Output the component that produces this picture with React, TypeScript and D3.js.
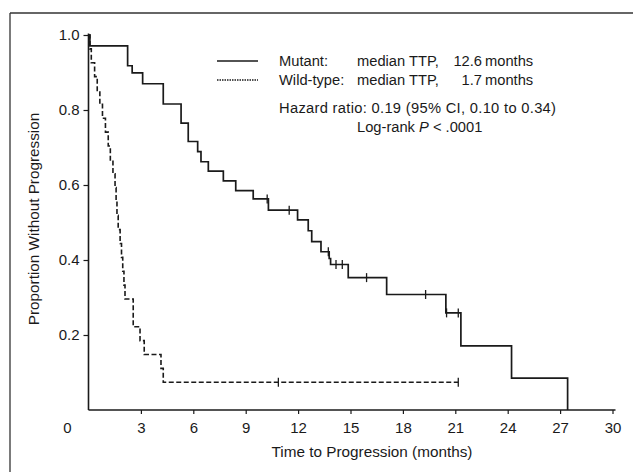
import { useEffect, useRef } from 'react';
import * as d3 from 'd3';

// Kaplan-Meier estimates (months, proportion)
const mutantTimes = [0, 0.08, 2.24, 2.5, 3.1, 4.28, 5.3, 5.71, 6.25, 6.44, 6.86, 7.72, 8.43, 9.43, 10.3, 11.97, 12.58, 12.78, 13.31, 13.78, 13.86, 14.87, 17.07, 20.46, 21.32, 24.22, 27.43];
const mutantSurv = [1.0, 0.971, 0.918, 0.899, 0.87, 0.816, 0.765, 0.716, 0.689, 0.662, 0.637, 0.611, 0.585, 0.563, 0.533, 0.507, 0.478, 0.449, 0.422, 0.404, 0.388, 0.353, 0.308, 0.259, 0.171, 0.085, 0];
const mutantCensored = [10.23, 11.49, 13.73, 14.17, 14.53, 15.92, 19.3, 20.5, 21.17];

const wildTimes = [0, 0.08, 0.16, 0.35, 0.5, 0.65, 0.8, 0.97, 1.13, 1.25, 1.4, 1.52, 1.58, 1.63, 1.7, 1.81, 1.89, 1.96, 2.03, 2.09, 2.56, 2.95, 3.19, 4.15, 4.28];
const wildSurv = [1.0, 0.963, 0.926, 0.889, 0.852, 0.815, 0.778, 0.741, 0.704, 0.667, 0.63, 0.593, 0.556, 0.519, 0.481, 0.444, 0.407, 0.37, 0.333, 0.296, 0.222, 0.185, 0.148, 0.111, 0.074];
const wildCensored = [10.87, 21.17];
const wildEnd = 21.17;

const xTicks = [3, 6, 9, 12, 15, 18, 21, 24, 27, 30];
const yTicks = [0.2, 0.4, 0.6, 0.8, 1.0];

const FONT = '"Liberation Sans", Arial, sans-serif';
const FS = 15;
const INK = '#1a1a1a';

export default function App() {
  const svgRef = useRef(null);

  useEffect(() => {
    const svg = d3.select(svgRef.current);
    svg.selectAll('*').remove();

    const x = d3.scaleLinear().domain([0, 30]).range([88.5, 612.5]);
    const y = d3.scaleLinear().domain([0, 1]).range([410, 35]);

    // figure frame (top + left, as cropped in the source)
    svg.append('line').attr('x1', 10).attr('x2', 633).attr('y1', 13).attr('y2', 13)
      .attr('stroke', '#333').attr('stroke-width', 1.3);
    svg.append('line').attr('x1', 10).attr('x2', 10).attr('y1', 13).attr('y2', 472)
      .attr('stroke', '#333').attr('stroke-width', 1.3);

    // axes
    const xAxis = svg.append('g').attr('transform', `translate(0,${y(0)})`)
      .call(d3.axisBottom(x).tickValues(xTicks).tickSize(4).tickSizeOuter(0).tickPadding(8).tickFormat(d3.format('d')));
    xAxis.select('.domain').attr('d', `M${x(0)},0H${x(30) + 3}`);
    const yAxis = svg.append('g').attr('transform', `translate(${x(0)},0)`)
      .call(d3.axisLeft(y).tickValues(yTicks).tickSize(5).tickSizeOuter(0).tickPadding(4).tickFormat(d3.format('.1f')));
    yAxis.select('.domain').attr('d', `M0,${y(0)}V${y(1) - 1.5}`);
    [xAxis, yAxis].forEach(g => {
      g.select('.domain').attr('stroke', INK).attr('stroke-width', 1.6);
      g.selectAll('.tick line').attr('stroke', INK).attr('stroke-width', 1.2);
      g.selectAll('.tick text').attr('font-family', FONT).attr('font-size', FS).attr('fill', INK);
    });

    // origin label sits left of the axis corner
    svg.append('text').attr('x', x(0) - 21).attr('y', y(0) + 23)
      .attr('text-anchor', 'middle').attr('font-family', FONT).attr('font-size', FS).attr('fill', INK).text('0');

    // axis titles
    svg.append('text').attr('x', 372).attr('y', 457)
      .attr('text-anchor', 'middle').attr('font-family', FONT).attr('font-size', 15.3).attr('fill', INK)
      .text('Time to Progression (months)');
    svg.append('text').attr('transform', `translate(39,219) rotate(-90)`)
      .attr('text-anchor', 'middle').attr('font-family', FONT).attr('font-size', 15.3).attr('fill', INK)
      .text('Proportion Without Progression');

    const step = d3.line().x(d => x(d[0])).y(d => y(d[1])).curve(d3.curveStepAfter);

    const mutantPts = mutantTimes.map((t, i) => [t, mutantSurv[i]]);
    svg.append('path').datum(mutantPts).attr('d', step)
      .attr('fill', 'none').attr('stroke', INK).attr('stroke-width', 1.7);

    const wildPts = wildTimes.map((t, i) => [t, wildSurv[i]]);
    wildPts.push([wildEnd, wildSurv[wildSurv.length - 1]]);
    svg.append('path').datum(wildPts).attr('d', step)
      .attr('fill', 'none').attr('stroke', INK).attr('stroke-width', 1.6).attr('stroke-dasharray', '5,2.5');

    // censor ticks
    const levelAt = (times, surv, t) => surv[d3.bisectRight(times, t) - 1];
    const censor = (times, surv, list) => svg.append('g').selectAll('line').data(list).enter().append('line')
      .attr('x1', d => x(d)).attr('x2', d => x(d))
      .attr('y1', d => y(levelAt(times, surv, d)) - 4.5)
      .attr('y2', d => y(levelAt(times, surv, d)) + 4.5)
      .attr('stroke', INK).attr('stroke-width', 1.3);
    censor(mutantTimes, mutantSurv, mutantCensored);
    censor(wildTimes, wildSurv, wildCensored);

    // legend
    const lg = svg.append('g').attr('font-family', FONT).attr('font-size', 14.7).attr('fill', INK);
    lg.append('line').attr('x1', 217).attr('x2', 258).attr('y1', 61).attr('y2', 61)
      .attr('stroke', INK).attr('stroke-width', 1.4);
    lg.append('line').attr('x1', 217).attr('x2', 258).attr('y1', 80).attr('y2', 80)
      .attr('stroke', INK).attr('stroke-width', 1.4).attr('stroke-dasharray', '1.5,1');
    lg.append('text').attr('x', 279).attr('y', 66).text('Mutant:');
    lg.append('text').attr('x', 357).attr('y', 66).text('median TTP,');
    lg.append('text').attr('x', 482).attr('y', 66).attr('text-anchor', 'end').text('12.6');
    lg.append('text').attr('x', 485).attr('y', 66).text('months');
    lg.append('text').attr('x', 279).attr('y', 85).text('Wild-type:');
    lg.append('text').attr('x', 357).attr('y', 85).text('median TTP,');
    lg.append('text').attr('x', 482).attr('y', 85).attr('text-anchor', 'end').text('1.7');
    lg.append('text').attr('x', 485).attr('y', 85).text('months');
    lg.append('text').attr('x', 279).attr('y', 113).attr('textLength', 277).attr('lengthAdjust', 'spacing')
      .text('Hazard ratio: 0.19 (95% CI, 0.10 to 0.34)');
    const lr = lg.append('text').attr('x', 357).attr('y', 132);
    lr.append('tspan').text('Log-rank ');
    lr.append('tspan').attr('font-style', 'italic').text('P');
    lr.append('tspan').text(' < .0001');
  }, []);

  return (
    <svg
      ref={svgRef}
      width={633}
      height={472}
      style={{ position: 'absolute', left: 0, top: 0, background: '#fff' }}
    ></svg>
  );
}
